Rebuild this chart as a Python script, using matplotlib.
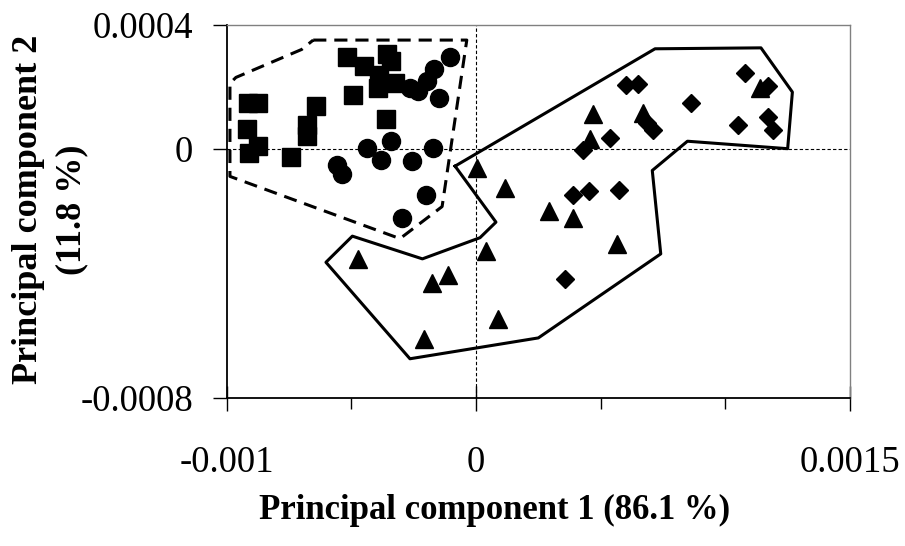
import matplotlib
matplotlib.use("Agg")
import matplotlib.pyplot as plt
from matplotlib.ticker import FixedLocator

plt.rcParams['font.family'] = ['Liberation Serif', 'DejaVu Serif']

# scores on the first two principal components
sq_x = [-5.16e-4, -4.48e-4, -3.58e-4, -3.41e-4, -3.88e-4, -3.92e-4, -3.25e-4, -4.95e-4, -9.16e-4,
        -8.73e-4, -6.43e-4, -6.77e-4, -6.77e-4, -9.17e-4, -9.09e-4, -8.73e-4, -7.42e-4, -3.61e-4]
sq_y = [2.95e-4, 2.66e-4, 3.06e-4, 2.82e-4, 2.39e-4, 1.97e-4, 2.13e-4, 1.72e-4, 1.48e-4,
        1.48e-4, 1.38e-4, 0.76e-4, 0.41e-4, 0.65e-4, -0.12e-4, 0.09e-4, -0.26e-4, 0.97e-4]

ci_x = [-1.04e-4, -1.67e-4, -1.95e-4, -2.65e-4, -2.34e-4, -1.48e-4, -3.41e-4, -4.38e-4,
        -1.74e-4, -3.82e-4, -2.58e-4, -5.59e-4, -5.36e-4, -2.01e-4, -2.98e-4]
ci_y = [2.95e-4, 2.58e-4, 2.18e-4, 1.97e-4, 1.86e-4, 1.65e-4, 0.25e-4, 0.04e-4,
        0.04e-4, -0.36e-4, -0.39e-4, -0.53e-4, -0.79e-4, -1.49e-4, -2.21e-4]

tr_x = [0.03e-4, 1.16e-4, 2.92e-4, 3.90e-4, 5.67e-4, 0.40e-4, -4.75e-4, -1.78e-4,
        -1.14e-4, 0.87e-4, -2.07e-4, 4.68e-4, 4.57e-4, 6.71e-4, 11.39e-4]
tr_y = [-0.60e-4, -1.25e-4, -2.00e-4, -2.21e-4, -3.04e-4, -3.28e-4, -3.55e-4, -4.30e-4,
        -4.06e-4, -5.46e-4, -6.10e-4, 1.11e-4, 0.31e-4, 1.16e-4, 1.97e-4]

di_x = [6.00e-4, 6.51e-4, 10.79e-4, 11.72e-4, 8.61e-4, 5.38e-4, 4.30e-4, 6.85e-4,
        7.09e-4, 10.50e-4, 11.72e-4, 11.90e-4, 3.90e-4, 4.54e-4, 5.74e-4, 3.57e-4]
di_y = [2.05e-4, 2.10e-4, 2.45e-4, 2.02e-4, 1.48e-4, 0.36e-4, -0.02e-4, 0.84e-4,
        0.60e-4, 0.76e-4, 1.04e-4, 0.60e-4, -1.49e-4, -1.36e-4, -1.33e-4, -4.19e-4]

# group outlines
dash_x = [-6.53e-4, -0.37e-4, -1.36e-4, -3.05e-4, -9.87e-4, -9.87e-4, -9.63e-4, -6.99e-4, -6.53e-4]
dash_y = [3.50e-4, 3.50e-4, -1.85e-4, -2.88e-4, -0.88e-4, 2.11e-4, 2.30e-4, 3.20e-4, 3.50e-4]

solid_x = [-0.84e-4, 7.18e-4, 11.43e-4, 12.69e-4, 12.50e-4, 8.48e-4, 7.07e-4, 7.41e-4,
           2.50e-4, -2.65e-4, -6.02e-4, -4.96e-4, -2.15e-4, 0.16e-4, 0.80e-4, -0.84e-4]
solid_y = [-0.55e-4, 3.22e-4, 3.25e-4, 1.83e-4, 0.01e-4, 0.25e-4, -0.69e-4, -3.37e-4,
           -6.07e-4, -6.74e-4, -3.64e-4, -2.80e-4, -3.53e-4, -2.85e-4, -2.35e-4, -0.55e-4]

fig = plt.figure(figsize=(9.05, 5.46), dpi=100)
ax = fig.add_axes([0.2505, 0.2711, 0.6887, 0.684])

ax.axhline(0, color='black', lw=0.8, ls=(0, (3, 2)), zorder=1)
ax.axvline(0, color='black', lw=0.8, ls=(0, (3, 2)), zorder=1)

ax.plot(dash_x, dash_y, color='black', lw=2.2, ls=(0, (4.3, 2.6)), zorder=2)
ax.plot(solid_x, solid_y, color='black', lw=2.2, zorder=2)

ax.plot(sq_x, sq_y, 's', color='black', ms=13.5, zorder=3)
ax.plot(ci_x, ci_y, 'o', color='black', ms=13, zorder=3)
ax.plot(tr_x, tr_y, '^', color='black', ms=13, zorder=3)
ax.plot(di_x, di_y, 'D', color='black', ms=8.7, zorder=3)

ax.set_xlim(-0.001, 0.0015)
ax.set_ylim(-0.0008, 0.0004)

ax.set_xticks([-0.001, 0, 0.0015], ['-0.001', '0', '0.0015'])
ax.xaxis.set_minor_locator(FixedLocator([-0.0005, 0.0005, 0.001]))
ax.set_yticks([-0.0008, 0, 0.0004], ['-0.0008', '0', '0.0004'])

ax.tick_params(axis='x', which='major', direction='inout', length=18, width=1, labelsize=26.5, pad=25)
ax.tick_params(axis='x', which='minor', direction='out', length=8, width=1)
ax.tick_params(axis='y', which='major', direction='out', length=10, width=1, labelsize=26.5, pad=14)

for side in ['left', 'bottom']:
    ax.spines[side].set_color('black')
    ax.spines[side].set_linewidth(1.3)
for side in ['top', 'right']:
    ax.spines[side].set_color('#808080')
    ax.spines[side].set_linewidth(1)

ax.set_xlabel('Principal component 1 (86.1 %)', fontsize=25, fontweight='bold', va='center')
ax.xaxis.set_label_coords(0.429, -0.30)
ax.set_ylabel('Principal component 2\n(11.8 %)', fontsize=26, fontweight='bold',
              va='center', linespacing=1.4)
ax.yaxis.set_label_coords(-0.2835, 0.505)

fig.savefig('out.png', dpi=100)
